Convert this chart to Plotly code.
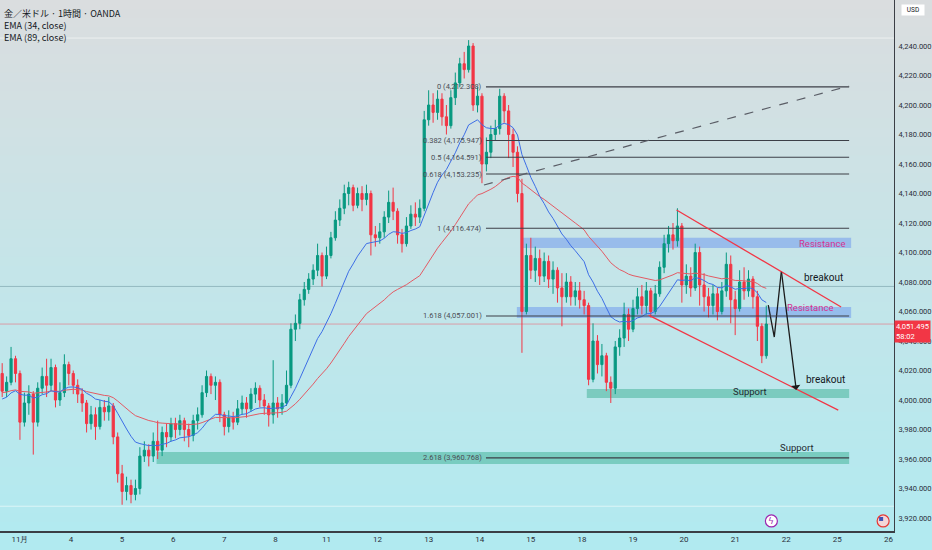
import plotly.graph_objects as go

# ---------------- data ----------------
title_lines = ["金／米ドル · 1時間 · OANDA", "EMA (34, close)", "EMA (89, close)"]
day_labels = ["11月", "4", "5", "6", "7", "8", "11", "12", "13", "14", "15",
              "18", "19", "20", "21", "22", "25", "26"]
day_slots = [0, 23, 46, 69, 92, 115, 138, 161, 184, 207, 230,
             253, 276, 299, 322, 345, 368, 391]
price_ticks = [3920, 3940, 3960, 3980, 4000, 4020, 4040, 4060, 4080, 4100,
               4120, 4140, 4160, 4180, 4200, 4220, 4240]

# time index (hour slots), one candle every 2 hours
candle_slots = list(range(-8, 337, 2))

opens = [
4018,4006,4012,4028,4018,3985,3998,4004,3985,4008,
4016,4010,4022,4000,4005,4024,4018,4010,4004,3998,
3984,3990,3982,3995,3992,3996,3975,3950,3938,3942,
3936,3940,3962,3966,3962,3972,3966,3978,3975,3984,
3980,3986,3980,3976,3986,3990,4005,4016,4010,4012,
3990,3982,3988,3985,3994,3998,3994,4004,4008,4000,
3996,3990,3998,3994,3998,4010,4048,4052,4068,4075,
4082,4088,4098,4084,4098,4110,4122,4130,4140,4144,
4132,4140,4136,4140,4112,4110,4114,4124,4134,4128,
4112,4106,4118,4126,4124,4130,4190,4200,4195,4204,
4192,4186,4205,4215,4228,4224,4240,4200,4206,4160,
4168,4180,4184,4206,4196,4180,4168,4140,4060,4098,
4088,4096,4084,4094,4082,4088,4076,4070,4080,4070,
4074,4068,4064,4014,4040,4024,4030,4012,4008,4036,
4042,4058,4048,4062,4070,4064,4074,4060,4072,4090,
4106,4112,4108,4118,4078,4084,4076,4100,4078,4070,
4064,4072,4060,4074,4092,4068,4062,4080,4074,4082,
4070,4050,4030]
highs = [
4025,4016,4036,4030,4020,4005,4010,4006,4012,4022,
4028,4028,4024,4012,4031,4026,4020,4014,4008,4000,
3996,3995,4000,4000,4002,3998,3978,3956,3948,3946,
3946,3968,3972,3970,3978,3986,3982,3984,3988,3988,
3990,3988,3984,3990,3995,4010,4020,4018,4016,4014,
3992,3993,3992,4000,4003,4002,4008,4012,4010,4004,
3998,4027,4002,4004,4020,4052,4058,4072,4080,4086,
4092,4106,4100,4104,4114,4128,4136,4146,4148,4146,
4144,4145,4146,4142,4118,4120,4128,4142,4144,4130,
4116,4124,4132,4134,4136,4196,4210,4208,4210,4208,
4200,4210,4222,4232,4236,4244,4242,4212,4208,4178,
4186,4190,4211,4208,4200,4184,4172,4150,4106,4110,
4104,4102,4100,4098,4094,4090,4086,4086,4084,4080,
4080,4074,4066,4052,4044,4038,4032,4016,4040,4048,
4066,4062,4068,4076,4078,4080,4076,4078,4094,4112,
4118,4120,4130,4120,4092,4090,4106,4104,4086,4076,
4078,4076,4080,4100,4098,4074,4088,4090,4088,4084,
4074,4052,4064]
lows = [
4002,4002,4010,4012,3973,3982,3990,3963,3982,4004,
4002,4006,3995,3996,4002,4010,4004,3998,3992,3978,
3980,3973,3980,3986,3986,3970,3944,3929,3932,3930,
3932,3936,3958,3955,3958,3960,3962,3968,3972,3974,
3976,3972,3968,3972,3980,3988,4002,4004,4000,3985,
3976,3978,3980,3983,3990,3988,3992,3998,3995,3990,
3982,3984,3988,3990,3996,4008,4040,4048,4064,4072,
4078,4084,4077,4082,4096,4108,4118,4126,4132,4128,
4130,4128,4132,4098,4104,4106,4110,4120,4122,4106,
4100,4104,4116,4118,4120,4128,4186,4188,4190,4186,
4180,4184,4200,4212,4218,4222,4196,4195,4147,4155,
4164,4176,4180,4188,4164,4158,4134,4032,4058,4082,
4080,4078,4080,4076,4072,4066,4050,4066,4064,4064,
4062,4058,4010,4012,4018,4016,4006,3998,4004,4030,
4036,4040,4046,4058,4058,4058,4056,4058,4070,4086,
4100,4102,4104,4066,4072,4070,4074,4064,4060,4056,
4058,4054,4058,4070,4052,4044,4060,4068,4070,4062,
4040,4025,4028]
closes = [
4006,4012,4028,4018,3985,3998,4004,3985,4008,4016,
4010,4022,4000,4005,4024,4018,4010,4004,3998,3984,
3990,3982,3995,3992,3996,3975,3950,3938,3942,3936,
3940,3962,3966,3962,3972,3966,3978,3975,3984,3980,
3986,3980,3976,3986,3990,4005,4016,4010,4012,3990,
3982,3988,3985,3994,3998,3994,4004,4008,4000,3996,
3990,3998,3994,3998,4010,4048,4052,4068,4075,4082,
4088,4098,4084,4098,4110,4122,4130,4140,4144,4132,
4140,4136,4140,4112,4110,4114,4124,4134,4128,4112,
4106,4118,4126,4124,4130,4190,4200,4195,4204,4192,
4186,4205,4215,4228,4224,4240,4200,4206,4160,4168,
4180,4184,4206,4196,4180,4168,4140,4060,4098,4088,
4096,4084,4094,4082,4088,4076,4070,4080,4070,4074,
4068,4064,4014,4040,4024,4030,4012,4008,4036,4042,
4058,4048,4062,4070,4064,4074,4060,4072,4090,4106,
4112,4108,4118,4078,4084,4076,4100,4078,4070,4064,
4072,4060,4074,4092,4068,4062,4080,4074,4082,4070,
4050,4030,4051.495]
last_price = 4051.495
countdown = "58:02"

ema_fast_period, ema_fast_seed = 34, 4000
ema_slow_period, ema_slow_seed = 89, 4005
hours_per_candle = 2

fib_ratios = ["0", "0.382", "0.5", "0.618", "1", "1.618", "2.618"]
fib_levels = [4212.308, 4175.947, 4164.591, 4153.235, 4116.474, 4057.001, 3960.768]
fib_x0, fib_x1 = 209.8, 373.3
fib_trend_x = [208.9, 373.3]
fib_trend_y = [4145.8, 4212.9]

zone_names = ["Resistance", "Resistance", "Support", "Support"]
zone_x0 = [225.5, 223.7, 255.2, 61.5]
zone_x1 = [374.2, 374.2, 373.3, 373.3]
zone_lo = [4103.0, 4055.6, 4001.4, 3956.6]
zone_hi = [4110.0, 4063.0, 4007.5, 3964.7]
zone_label_x = [361.2, 355.8, 328.8, 350.0]
zone_label_y = [4106.4, 4062.4, 4006.1, 3968.1]

channel_upper_x = [295.6, 369.7]
channel_upper_y = [4128.8, 4063.1]
channel_lower_x = [283.0, 368.4]
channel_lower_y = [4057.6, 3993.2]

path_x = [336.9, 339.6, 342.8, 349.5]
path_y = [4064.4, 4042.7, 4087.5, 4006.8]

breakout_x = [361.6, 362.5]
breakout_y = [4083.4, 4013.6]

hline_levels = [4077.0]
top_line_level, bottom_line_level = 4245.4, 3928.0
event_icon_x = [338.3, 388.6]
event_icon_y = 3918.0

x_range = [-8.98, 393.5]
y_range = [3911.2, 4271.2]


def ema(values, period, seed, steps):
    a1 = 2.0 / (period + 1)
    a = 1 - (1 - a1) ** steps
    out, e = [], seed
    for v in values:
        e = e + a * (v - e)
        out.append(e)
    return out


ema_fast = ema(closes, ema_fast_period, ema_fast_seed, hours_per_candle)
ema_slow = ema(closes, ema_slow_period, ema_slow_seed, hours_per_candle)

# ---------------- figure ----------------
GREEN = "#089981"
RED = "#f23645"
fig = go.Figure()

fig.add_trace(go.Candlestick(
    x=candle_slots, open=opens, high=highs, low=lows, close=closes,
    increasing=dict(line=dict(color=GREEN, width=1), fillcolor=GREEN),
    decreasing=dict(line=dict(color=RED, width=1), fillcolor=RED),
    whiskerwidth=0, hoverinfo="skip", showlegend=False))

fig.add_trace(go.Scatter(x=candle_slots, y=ema_slow, mode="lines",
                         line=dict(color="#e35a64", width=1), hoverinfo="skip", showlegend=False))
fig.add_trace(go.Scatter(x=candle_slots, y=ema_fast, mode="lines",
                         line=dict(color="#3d6ee6", width=1), hoverinfo="skip", showlegend=False))

shapes = []
# background gradient (style)
top_c = (218, 221, 223)
mid_c = (196, 229, 233)
bot_c = (177, 234, 240)
n_bands = 60
y_lo_paper = -19.0 / 531
for i in range(n_bands):
    t = i / (n_bands - 1)
    if t < 0.5:
        u = t / 0.5
        c = [round(top_c[j] + (mid_c[j] - top_c[j]) * u) for j in range(3)]
    else:
        u = (t - 0.5) / 0.5
        c = [round(mid_c[j] + (bot_c[j] - mid_c[j]) * u) for j in range(3)]
    y1 = 1 - (1 - y_lo_paper) * i / n_bands
    y0 = 1 - (1 - y_lo_paper) * (i + 1) / n_bands
    shapes.append(dict(type="rect", xref="paper", yref="paper", x0=-0.01, x1=1.05,
                       y0=y0 - 0.001, y1=y1 + 0.001, line=dict(width=0),
                       fillcolor=f"rgb({c[0]},{c[1]},{c[2]})", layer="below"))

# faint horizontal lines
for lv in [top_line_level, bottom_line_level]:
    shapes.append(dict(type="line", xref="paper", x0=0, x1=1, yref="y", y0=lv, y1=lv,
                       line=dict(color="rgba(255,255,255,0.55)", width=1), layer="below"))
for lv in hline_levels:
    shapes.append(dict(type="line", xref="paper", x0=0, x1=1, yref="y", y0=lv, y1=lv,
                       line=dict(color="rgba(110,150,160,0.55)", width=1), layer="below"))
shapes.append(dict(type="line", xref="paper", x0=0, x1=1, yref="y", y0=last_price, y1=last_price,
                   line=dict(color="rgba(235,110,125,0.6)", width=1), layer="below"))

# zones
for i in range(len(zone_names)):
    fill = "rgba(95,140,240,0.45)" if zone_names[i] == "Resistance" else "rgba(60,175,145,0.5)"
    shapes.append(dict(type="rect", xref="x", yref="y", x0=zone_x0[i], x1=zone_x1[i],
                       y0=zone_lo[i], y1=zone_hi[i], line=dict(width=0), fillcolor=fill,
                       layer="below"))

# fib lines
for lv in fib_levels:
    shapes.append(dict(type="line", xref="x", yref="y", x0=fib_x0, x1=fib_x1, y0=lv, y1=lv,
                       line=dict(color="#3c3f47", width=1.1)))
shapes.append(dict(type="line", xref="x", yref="y", x0=fib_trend_x[0], x1=fib_trend_x[1],
                   y0=fib_trend_y[0], y1=fib_trend_y[1],
                   line=dict(color="#5a5d66", width=1.2, dash="dash")))

# channel
shapes.append(dict(type="line", xref="x", yref="y", x0=channel_upper_x[0], x1=channel_upper_x[1],
                   y0=channel_upper_y[0], y1=channel_upper_y[1], line=dict(color=RED, width=1.3)))
shapes.append(dict(type="line", xref="x", yref="y", x0=channel_lower_x[0], x1=channel_lower_x[1],
                   y0=channel_lower_y[0], y1=channel_lower_y[1], line=dict(color=RED, width=1.3)))

# event icons
shapes.append(dict(type="circle", xref="x", yref="y", xsizemode="pixel", ysizemode="pixel",
                   xanchor=event_icon_x[0], yanchor=event_icon_y, x0=-6, x1=6, y0=-6, y1=6,
                   line=dict(color="#9c27b0", width=1.2), fillcolor="white"))
shapes.append(dict(type="circle", xref="x", yref="y", xsizemode="pixel", ysizemode="pixel",
                   xanchor=event_icon_x[1], yanchor=event_icon_y, x0=-6, x1=6, y0=-6, y1=6,
                   line=dict(color="#e53935", width=1.2), fillcolor="#f3d6d8"))
shapes.append(dict(type="rect", xref="x", yref="y", xsizemode="pixel", ysizemode="pixel",
                   xanchor=event_icon_x[1], yanchor=event_icon_y, x0=-4, x1=0, y0=0, y1=4,
                   line=dict(width=0), fillcolor="#3f51b5"))

# projection path (all but last leg)
fig.add_trace(go.Scatter(x=path_x[:-1], y=path_y[:-1], mode="lines",
                         line=dict(color="#1b1b1b", width=1.3), hoverinfo="skip", showlegend=False))

ann = []
ann.append(dict(x=path_x[-1], y=path_y[-1], ax=path_x[-2], ay=path_y[-2], xref="x", yref="y",
                axref="x", ayref="y", showarrow=True, arrowhead=1, arrowsize=1.2,
                arrowwidth=1.3, arrowcolor="#1b1b1b", text=""))

# legend text top-left
for i, t in enumerate(title_lines):
    ann.append(dict(xref="paper", yref="paper", x=0, y=1, xanchor="left", yanchor="top",
                    xshift=3, yshift=-6 - 12 * i, text=t, showarrow=False, borderpad=0,
                    font=dict(family="Noto Sans CJK JP, Noto Sans", size=9, color="#131722")))

# fib labels
for r, lv in zip(fib_ratios, fib_levels):
    ann.append(dict(xref="x", yref="y", x=fib_x0, y=lv, xanchor="right", yanchor="middle",
                    xshift=-2, text=f"{r} ({lv:,.3f})", showarrow=False,
                    font=dict(family="Roboto", size=7.5, color="#4a4d55")))

# zone labels
for i in range(len(zone_names)):
    col = "#d6338f" if zone_names[i] == "Resistance" else "#1f2a30"
    ann.append(dict(xref="x", yref="y", x=zone_label_x[i], y=zone_label_y[i], text=zone_names[i],
                    showarrow=False, font=dict(family="Roboto", size=9.5, color=col)))
for bx, by in zip(breakout_x, breakout_y):
    ann.append(dict(xref="x", yref="y", x=bx, y=by, text="breakout", showarrow=False,
                    font=dict(family="Roboto", size=10, color="#131722")))

# event icon glyph
ann.append(dict(xref="x", yref="y", x=event_icon_x[0], y=event_icon_y, text="ϟ", showarrow=False,
                font=dict(family="DejaVu Sans", size=9, color="#9c27b0")))

# price label + USD box
ann.append(dict(xref="paper", yref="y", x=1, y=last_price, xanchor="left", yanchor="top",
                yshift=4, xshift=0, text=f"{last_price:,.3f}<br>{countdown}", showarrow=False,
                align="left", bgcolor=RED, borderpad=1, width=33,
                font=dict(family="Roboto", size=7.5, color="white")))
ann.append(dict(xref="paper", yref="paper", x=1, y=1, xanchor="left", yanchor="top",
                xshift=7, yshift=-4, text="USD", showarrow=False, bgcolor="white", width=20,
                font=dict(family="Roboto", size=6.5, color="#131722")))

fig.update_layout(
    width=932, height=550,
    margin=dict(l=0, r=36, t=0, b=19),
    paper_bgcolor="rgba(0,0,0,0)", plot_bgcolor="rgba(0,0,0,0)",
    shapes=shapes, annotations=ann, showlegend=False,
    xaxis=dict(range=x_range, tickvals=day_slots, ticktext=day_labels, showgrid=False,
               zeroline=False, showline=True, linecolor="#3b3e45", linewidth=1.5, ticks="",
               rangeslider=dict(visible=False),
               tickfont=dict(family="Roboto", size=8, color="#2a2e39")),
    yaxis=dict(range=y_range, side="right", tickvals=price_ticks, tickformat=",.3f",
               showgrid=False, zeroline=False, showline=True, linecolor="#3b3e45",
               linewidth=1.2, ticks="", ticklabelstandoff=2,
               tickfont=dict(family="Roboto", size=7.5, color="#2a2e39")),
)

fig.write_html("out.html", config={"displayModeBar": False},
               post_script="document.body.style.margin='0';document.body.style.overflow='hidden';")
